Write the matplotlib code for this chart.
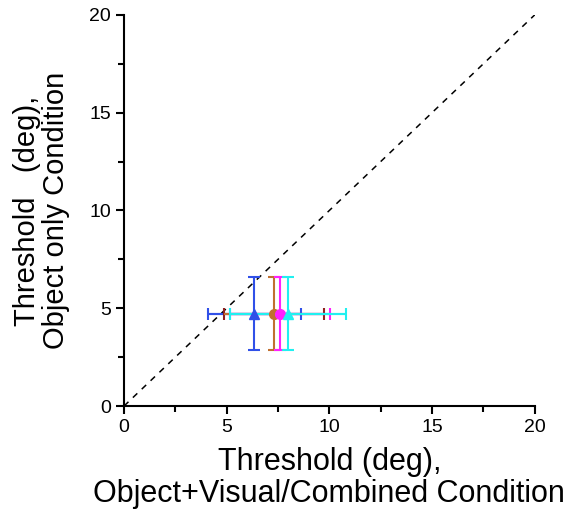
import matplotlib
matplotlib.use('Agg')
import matplotlib.pyplot as plt
from matplotlib.ticker import MultipleLocator

plt.rcParams['font.family'] = ['Liberation Sans', 'DejaVu Sans']

# thresholds per group: combined condition (x) vs object-only condition (y)
x_mean = [6.35, 7.3, 7.58, 7.98]
x_err = [2.25, 2.45, 2.43, 2.82]
y_mean = [4.72, 4.72, 4.72, 4.72]
y_err = [1.88, 1.88, 1.88, 1.88]
colors = ['#3050e8', '#c07030', '#ff20ff', '#20f0f0']
cap_colors = ['#3050e8', '#902020', '#ff20ff', '#20f0f0']
markers = ['^', 'o', 'o', '^']

fig = plt.figure(figsize=(5.75, 5.12), dpi=100)
ax = fig.add_axes([0.2157, 0.207, 0.7143, 0.764])

ax.plot([0, 20], [0, 20], color='black', linestyle=(0, (4, 4)), linewidth=1.1, zorder=1)

for i in range(len(x_mean)):
    # horizontal and vertical bars drawn separately so caps can differ in colour
    ax.errorbar(x_mean[i], y_mean[i], xerr=x_err[i], fmt='none', ecolor=cap_colors[i],
                elinewidth=1.5, capsize=4, capthick=1.5, zorder=2 + i)
    ax.errorbar(x_mean[i], y_mean[i], xerr=x_err[i], fmt='none', ecolor=colors[i],
                elinewidth=1.5, capsize=0, zorder=2 + i)
    ax.errorbar(x_mean[i], y_mean[i], yerr=y_err[i], fmt='none', ecolor=colors[i],
                elinewidth=1.5, capsize=4, capthick=1.5, zorder=2 + i)
    ax.plot(x_mean[i], y_mean[i], marker=markers[i], color=colors[i], markersize=7,
            linestyle='none', zorder=6 + i)

ax.set_xlim(0, 20)
ax.set_ylim(0, 20)
ax.xaxis.set_major_locator(MultipleLocator(5))
ax.xaxis.set_minor_locator(MultipleLocator(2.5))
ax.yaxis.set_major_locator(MultipleLocator(5))
ax.yaxis.set_minor_locator(MultipleLocator(2.5))

for side in ['top', 'right']:
    ax.spines[side].set_visible(False)
for side in ['left', 'bottom']:
    ax.spines[side].set_linewidth(1.5)

ax.tick_params(which='major', direction='out', length=6, width=1.5, labelsize=14)
ax.tick_params(which='minor', direction='out', length=4, width=1.5)

ax.set_xlabel('Threshold (deg),\nObject+Visual/Combined Condition', fontsize=22,
              linespacing=1.08, labelpad=8)
ax.set_ylabel('Threshold   (deg),\nObject only Condition', fontsize=21,
              linespacing=1.05, labelpad=14)

fig.savefig('out.png', dpi=100)
